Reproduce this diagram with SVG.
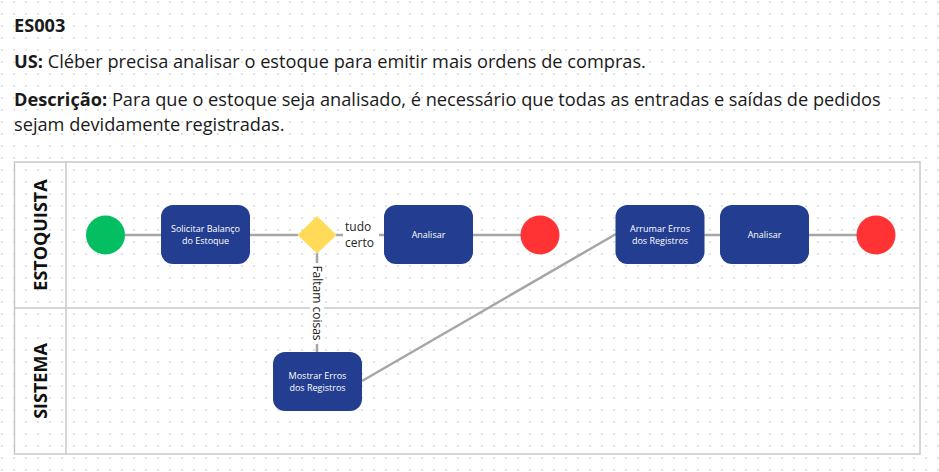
<svg xmlns="http://www.w3.org/2000/svg" width="939" height="472" viewBox="0 0 939 472">
  <defs>
    <pattern id="dots" x="1" y="1" width="12" height="12" patternUnits="userSpaceOnUse">
      <rect x="0" y="0" width="2" height="2" fill="#e2e2ea"/>
    </pattern>
    <style>
      .hdr { font-family: "Open Sans", "DejaVu Sans", sans-serif; font-size: 18.2px; fill: #1a1a1a; }
      .b { font-weight: bold; }
      .lane { fill: none; stroke: #c8c8c8; stroke-width: 1.5; }
      .lanelbl { font-family: "Open Sans", "DejaVu Sans", sans-serif; font-size: 18px; font-weight: bold; fill: #111; text-anchor: middle; }
      .task { fill: #233d91; }
      .tt { font-family: "Open Sans", "DejaVu Sans", sans-serif; font-size: 9px; fill: #ffffff; text-anchor: middle; }
      .edge { fill: none; stroke: #a6a6a6; stroke-width: 2.5; }
      .elbl { font-family: "Open Sans", "DejaVu Sans", sans-serif; font-size: 12px; fill: #222; }
    </style>
  </defs>
  <rect width="939" height="472" fill="#ffffff"/>
  <rect width="939" height="472" fill="url(#dots)"/>

  <g id="header">
    <text class="hdr b" x="14" y="32">ES003</text>
    <text class="hdr" x="14" y="68"><tspan class="b">US:</tspan> Cléber precisa analisar o estoque para emitir mais ordens de compras.</text>
    <text class="hdr" x="14" y="106"><tspan class="b">Descrição:</tspan> Para que o estoque seja analisado, é necessário que todas as entradas e saídas de pedidos</text>
    <text class="hdr" x="14" y="131">sejam devidamente registradas.</text>
  </g>

  <g id="pool">
    <rect class="lane" x="14.5" y="162" width="905.5" height="292" fill="none"/>
    <line class="lane" x1="14.5" y1="308" x2="920" y2="308"/>
    <line class="lane" x1="66" y1="162" x2="66" y2="454"/>
    <text class="lanelbl" transform="translate(47,235) rotate(-90)">ESTOQUISTA</text>
    <text class="lanelbl" transform="translate(47,381) rotate(-90)">SISTEMA</text>
  </g>

  <g id="connectors">
    <line class="edge" x1="125" y1="235" x2="161" y2="235"/>
    <line class="edge" x1="250" y1="235" x2="298" y2="235"/>
    <line class="edge" x1="336" y1="235" x2="384" y2="235"/>
    <line class="edge" x1="317" y1="253" x2="317" y2="352"/>
    <line class="edge" x1="473" y1="235" x2="521" y2="235"/>
    <line class="edge" x1="362" y1="381" x2="616" y2="234"/>
    <line class="edge" x1="704" y1="235" x2="720" y2="235"/>
    <line class="edge" x1="809" y1="235" x2="857" y2="235"/>
    <g id="label-tudo-certo">
      <rect x="343" y="218" width="36" height="34" fill="#ffffff"/>
      <text class="elbl" x="345" y="231">tudo</text>
      <text class="elbl" x="345" y="247">certo</text>
    </g>
    <g id="label-faltam-coisas">
      <rect x="310" y="263" width="14" height="81" fill="#ffffff"/>
      <text class="elbl" text-anchor="middle" transform="translate(313,303) rotate(90)">Faltam coisas</text>
    </g>
  </g>

  <g id="start">
    <circle cx="105.5" cy="235" r="19.5" fill="#03bf62"/>
  </g>
  <g id="solicitar">
    <rect class="task" x="161" y="205" width="89" height="59" rx="12"/>
    <text class="tt" x="205.5" y="232">Solicitar Balanço</text>
    <text class="tt" x="205.5" y="244">do Estoque</text>
  </g>
  <g id="gateway">
    <polygon points="317,216 336.5,235 317,253.5 297.5,235" fill="#ffdb59"/>
  </g>
  <g id="analisar1">
    <rect class="task" x="384" y="205" width="89" height="59" rx="12"/>
    <text class="tt" x="428.5" y="238">Analisar</text>
  </g>
  <g id="end1">
    <circle cx="540" cy="235" r="19.5" fill="#ff3333"/>
  </g>
  <g id="mostrar">
    <rect class="task" x="273" y="352" width="89" height="59" rx="12"/>
    <text class="tt" x="317.5" y="379">Mostrar Erros</text>
    <text class="tt" x="317.5" y="391">dos Registros</text>
  </g>
  <g id="arrumar">
    <rect class="task" x="615.5" y="205" width="89" height="59" rx="12"/>
    <text class="tt" x="660" y="232">Arrumar Erros</text>
    <text class="tt" x="660" y="244">dos Registros</text>
  </g>
  <g id="analisar2">
    <rect class="task" x="720" y="205" width="89" height="59" rx="12"/>
    <text class="tt" x="764.5" y="238">Analisar</text>
  </g>
  <g id="end2">
    <circle cx="876" cy="235" r="19.5" fill="#ff3333"/>
  </g>
</svg>
